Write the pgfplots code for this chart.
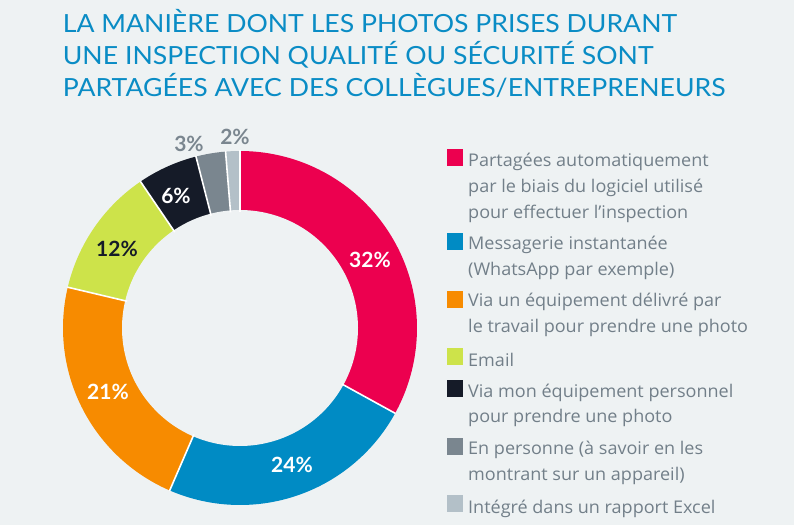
\documentclass[border=0pt]{standalone}
\usepackage{pgfplots}
\pgfplotsset{compat=1.18}
\usepackage{fontspec}
\setmainfont{Lato}
\newfontfamily\legfont{Open Sans}
\definecolor{bg}{HTML}{EEF2F3}
\definecolor{cpink}{HTML}{EC004F}
\definecolor{cblue}{HTML}{008BC4}
\definecolor{corange}{HTML}{F78B00}
\definecolor{clime}{HTML}{CDE34A}
\definecolor{cnavy}{HTML}{151B28}
\definecolor{cgrey}{HTML}{7A868F}
\definecolor{clight}{HTML}{B3C0C8}
\definecolor{ctitle}{HTML}{0A8CC5}
\definecolor{ctext}{HTML}{727F89}
% segment: start cumulative %, end cumulative %, colour
\newcommand{\dseg}[3]{\addplot[fill=#3, draw=none, domain=90-3.6*#2:90-3.6*#1, samples=90] ({240+177*cos(x)},{197+177*sin(x)}) -- (axis cs:240,197) -- cycle;}
\newcommand{\dsep}[1]{\addplot[white, line width=1.6pt, domain=116:177.5, samples=2] ({240+x*cos(90-3.6*#1)},{197+x*sin(90-3.6*#1)});}
\newcommand{\legline}[2]{\node[anchor=base west, inner sep=0pt, font=\legfont\fontsize{17.5}{20}\selectfont, text=ctext] at (axis cs:468,525-#1) {\scalebox{1.03}[1]{#2}};}
\newcommand{\legsq}[2]{\node[anchor=north west, fill=#2, minimum size=16.5pt, inner sep=0pt] at (axis cs:446.7,525-#1) {};}
\newcommand{\pctlab}[4]{\node[anchor=base, inner sep=0pt, font=\fontsize{21}{24}\bfseries, text=#4] at (axis cs:#1,525-#2) {#3};}
\newcommand{\ttl}[2]{\node[anchor=base west, inner sep=0pt, font=\fontsize{25}{30}\selectfont, text=ctitle] at (axis cs:62.7,525-#1) {\scalebox{1.065}[1]{#2}};}
\begin{document}
\begin{tikzpicture}
\fill[bg] (0,0) rectangle (794pt,525pt);
\useasboundingbox (0,0) rectangle (794pt,525pt);
\begin{axis}[scale only axis, width=794pt, height=525pt, xmin=0, xmax=794, ymin=0, ymax=525, hide axis, clip=false]
% shares (%), clockwise from the top
\dseg{0}{33}{cpink}
\dseg{33}{56.5}{cblue}
\dseg{56.5}{78.7}{corange}
\dseg{78.7}{90.5}{clime}
\dseg{90.5}{96.0}{cnavy}
\dseg{96.0}{98.7}{cgrey}
\dseg{98.7}{100}{clight}
\addplot[fill=bg, draw=none, domain=0:360, samples=150] ({240+118*cos(x)},{197+118*sin(x)}) -- cycle;
\dsep{0}\dsep{33}\dsep{56.5}\dsep{78.7}\dsep{90.5}\dsep{96.0}\dsep{98.7}
\pctlab{370}{268}{32\%}{white}
\pctlab{292}{472}{24\%}{white}
\pctlab{108}{399}{21\%}{white}
\pctlab{117}{257}{12\%}{cnavy}
\pctlab{176}{204}{6\%}{white}
\pctlab{189}{152}{3\%}{cgrey}
\pctlab{235}{145}{2\%}{cgrey}
% title
\ttl{33}{LA MANIÈRE DONT LES PHOTOS PRISES DURANT}
\ttl{65}{UNE INSPECTION QUALITÉ OU SÉCURITÉ SONT}
\ttl{97}{PARTAGÉES AVEC DES COLLÈGUES/ENTREPRENEURS}
% legend
\legsq{149.3}{cpink}
\legline{167}{Partagées automatiquement}
\legline{193}{par le biais du logiciel utilisé}
\legline{219}{pour effectuer l’inspection}
\legsq{233}{cblue}
\legline{250}{Messagerie instantanée}
\legline{276}{(WhatsApp par exemple)}
\legsq{291}{corange}
\legline{307}{Via un équipement délivré par}
\legline{333}{le travail pour prendre une photo}
\legsq{348}{clime}
\legline{366}{Email}
\legsq{380}{cnavy}
\legline{397}{Via mon équipement personnel}
\legline{422}{pour prendre une photo}
\legsq{438}{cgrey}
\legline{454}{En personne (à savoir en les}
\legline{480}{montrant sur un appareil)}
\legsq{495}{clight}
\legline{513}{Intégré dans un rapport Excel}
\end{axis}
\end{tikzpicture}
\end{document}
